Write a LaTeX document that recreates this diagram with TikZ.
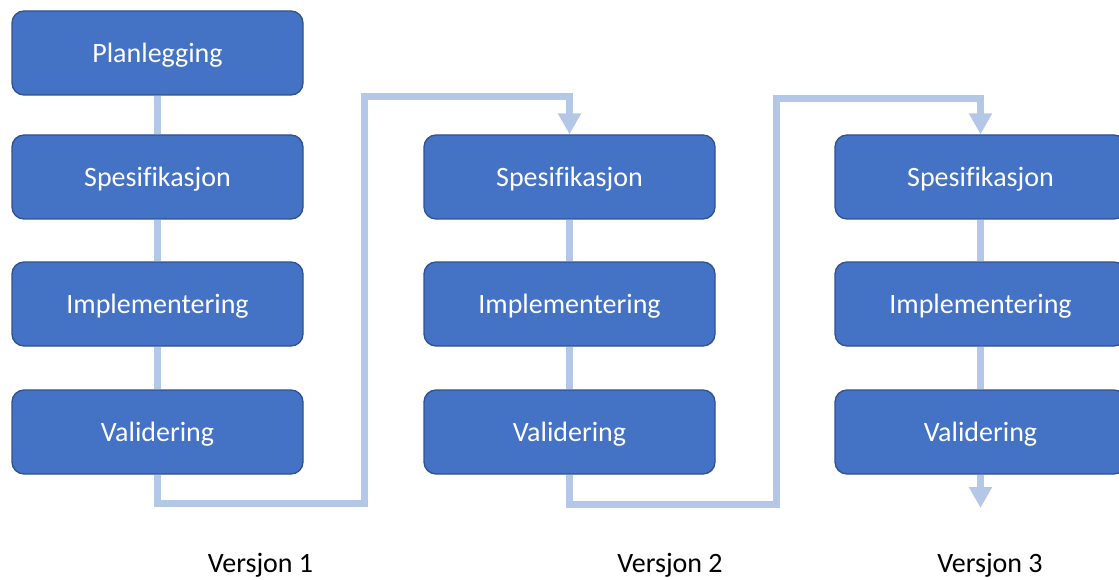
\documentclass[tikz,border=0pt]{standalone}
\usepackage{fontspec}
\setmainfont[Ligatures=NoCommon]{Carlito}
\usetikzlibrary{arrows.meta}
\definecolor{boxfill}{HTML}{4472C4}
\definecolor{boxedge}{HTML}{2F528F}
\definecolor{flow}{HTML}{B4C7E7}
\begin{document}
\begin{tikzpicture}[x=1pt,y=-1pt,
  txt/.style={font=\fontsize{28}{34}\selectfont, text height=24.5pt, text depth=5pt},
  stage/.style={txt, draw=boxedge, line width=1.3pt, fill=boxfill, rounded corners=12pt,
    minimum width=291pt, minimum height=84pt, inner sep=0pt, text=white},
  link/.style={draw=flow, line width=7pt},
  flowarrow/.style={link, -{Triangle[width=22pt,length=21pt]}},
  verlabel/.style={txt, text=black}]
\useasboundingbox (0,0) rectangle (1119,580);
\clip (0,0) rectangle (1119,580);

% Version 1
\node[stage] (p1) at (157.5,53)  {Planlegging};
\node[stage] (s1) at (157.5,177) {Spesifikasjon};
\node[stage] (i1) at (157.5,304) {Implementering};
\node[stage] (v1) at (157.5,432) {Validering};
% Version 2
\node[stage] (s2) at (569.5,177) {Spesifikasjon};
\node[stage] (i2) at (569.5,304) {Implementering};
\node[stage] (v2) at (569.5,432) {Validering};
% Version 3
\node[stage] (s3) at (980.5,177) {Spesifikasjon};
\node[stage] (i3) at (980.5,304) {Implementering};
\node[stage] (v3) at (980.5,432) {Validering};

% Version labels
\node[verlabel] (l1) at (260.5,563) {Versjon 1};
\node[verlabel] (l2) at (670,563)   {Versjon 2};
\node[verlabel] (l3) at (990,563)   {Versjon 3};

% Links within each version
\draw[link] (p1.south) -- (s1.north);
\draw[link] (s1.south) -- (i1.north);
\draw[link] (i1.south) -- (v1.north);
\draw[link] (s2.south) -- (i2.north);
\draw[link] (i2.south) -- (v2.north);
\draw[link] (s3.south) -- (i3.north);
\draw[link] (i3.south) -- (v3.north);

% Hand-over from one version to the next
\coordinate (b1) at (364,503.5);
\coordinate (c1) at (364,96.5);
\draw[flowarrow] (v1.south) |- (b1) -- (c1) -| (s2.north);

\coordinate (b2) at (776,504.5);
\coordinate (c2) at (776,98.5);
\draw[flowarrow] (v2.south) |- (b2) -- (c2) -| (s3.north);

% Outgoing arrow of the last version
\coordinate (e3) at (980.5,508);
\draw[flowarrow] (v3.south) -- (e3);
\end{tikzpicture}
\end{document}
